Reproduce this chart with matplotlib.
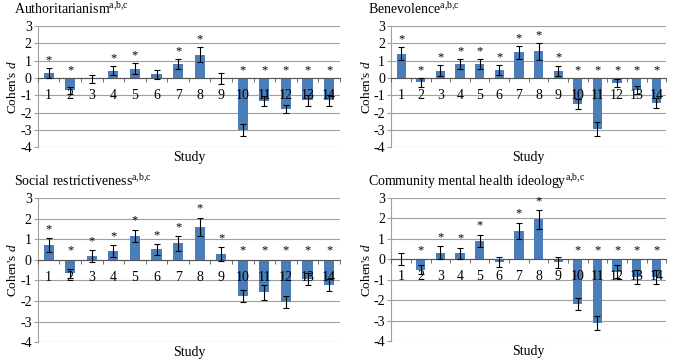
import numpy as np
import matplotlib
matplotlib.use('Agg')
from matplotlib import pyplot as plt
from matplotlib.ticker import FixedLocator

plt.rcParams['font.family'] = 'Liberation Serif'
plt.rcParams['mathtext.fontset'] = 'custom'
plt.rcParams['mathtext.rm'] = 'Liberation Serif'
plt.rcParams['mathtext.it'] = 'Liberation Serif:italic'
plt.rcParams['axes.unicode_minus'] = False

studies = list(range(1, 15))

# Authoritarianism
auth_d = [0.3, -0.7, -0.05, 0.42, 0.55, 0.22, 0.8, 1.35, -0.02, -3.0, -1.35, -1.8, -1.3, -1.3]
auth_err = [0.3, 0.2, 0.25, 0.27, 0.3, 0.27, 0.3, 0.42, 0.3, 0.35, 0.3, 0.25, 0.3, 0.3]
auth_sig = [1, 1, 0, 1, 1, 0, 1, 1, 0, 1, 1, 1, 1, 1]

# Benevolence
benev_d = [1.4, -0.25, 0.42, 0.8, 0.8, 0.48, 1.48, 1.55, 0.42, -1.5, -2.95, -0.3, -0.7, -1.45]
benev_err = [0.38, 0.25, 0.33, 0.3, 0.28, 0.28, 0.38, 0.48, 0.3, 0.28, 0.4, 0.25, 0.25, 0.3]
benev_sig = [1] * 14

# Social restrictiveness
sr_d = [0.72, -0.65, 0.18, 0.42, 1.15, 0.5, 0.8, 1.6, 0.28, -1.75, -1.58, -2.05, -0.92, -1.22]
sr_err = [0.32, 0.22, 0.28, 0.28, 0.3, 0.25, 0.35, 0.45, 0.33, 0.3, 0.35, 0.3, 0.3, 0.3]
sr_sig = [1] * 14

# Community mental health ideology
cmhi_d = [0.02, -0.5, 0.33, 0.3, 0.9, -0.12, 1.4, 1.95, -0.15, -2.2, -3.1, -0.6, -0.85, -0.85]
cmhi_err = [0.3, 0.2, 0.3, 0.27, 0.3, 0.25, 0.4, 0.45, 0.27, 0.3, 0.35, 0.3, 0.35, 0.35]
cmhi_sig = [0, 1, 1, 1, 1, 0, 1, 1, 0, 1, 1, 1, 1, 1]

titles = ['Authoritarianism', 'Benevolence', 'Social restrictiveness',
          'Community mental health ideology']

fig = plt.figure(figsize=(6.77, 3.64), dpi=100)

# axes boxes in figure fractions
boxes = [[0.056, 0.596, 0.446, 0.332],
         [0.578, 0.596, 0.406, 0.332],
         [0.056, 0.060, 0.446, 0.396],
         [0.578, 0.063, 0.406, 0.393]]

panels = [(auth_d, auth_err, auth_sig), (benev_d, benev_err, benev_sig),
          (sr_d, sr_err, sr_sig), (cmhi_d, cmhi_err, cmhi_sig)]

for k in range(4):
    d, err, sig = panels[k]
    ax = fig.add_axes(boxes[k])
    x = np.array(studies)
    ax.bar(x, d, width=0.47, color='#4a7ebb', zorder=2)
    ax.errorbar(x, d, yerr=err, fmt='none', ecolor='black', elinewidth=0.8,
                capsize=2.5, capthick=0.8, zorder=3)
    for i in range(len(x)):
        if sig[i]:
            ys = max(d[i] + err[i], 0) + 0.45
            ax.text(x[i], ys, '*', ha='center', va='center', fontsize=9)
    ax.set_xlim(0.5, 14.5)
    ax.set_ylim(-4, 3)
    ax.set_yticks(range(-4, 4))
    ax.yaxis.grid(True, color='#a0a0a0', linewidth=0.8)
    ax.set_axisbelow(True)
    # study numbers are drawn over the bars, as in the original
    ax.xaxis.set_zorder(4)
    ax.spines['top'].set_visible(False)
    ax.spines['right'].set_visible(False)
    ax.spines['left'].set_color('#a0a0a0')
    ax.spines['bottom'].set_position(('data', 0))
    ax.spines['bottom'].set_color('#555555')
    ax.set_xticks(x)
    ax.set_xticklabels([str(s) for s in studies])
    ax.xaxis.set_minor_locator(FixedLocator(np.arange(0.5, 15, 1)))
    ax.tick_params(axis='x', which='major', length=0, pad=8, labelsize=10)
    ax.tick_params(axis='x', which='minor', length=3, direction='out', color='#555555')
    ax.tick_params(axis='y', length=3, color='#a0a0a0', labelsize=10, pad=1.5)
    ax.set_ylabel("Cohen's $d$", fontsize=9.5, labelpad=0.5)
    ax.annotate('Study', xy=(0.5, 0), xycoords='axes fraction', xytext=(0, -7.5),
                textcoords='offset points', ha='center', va='center', fontsize=10)
    ax.annotate(titles[k] + r'$^{\rm a{,}b{,}c}$', xy=(0, 1), xycoords='axes fraction',
                xytext=(-17, 12), textcoords='offset points',
                ha='left', va='center', fontsize=10)

fig.savefig('out.png', dpi=100)
